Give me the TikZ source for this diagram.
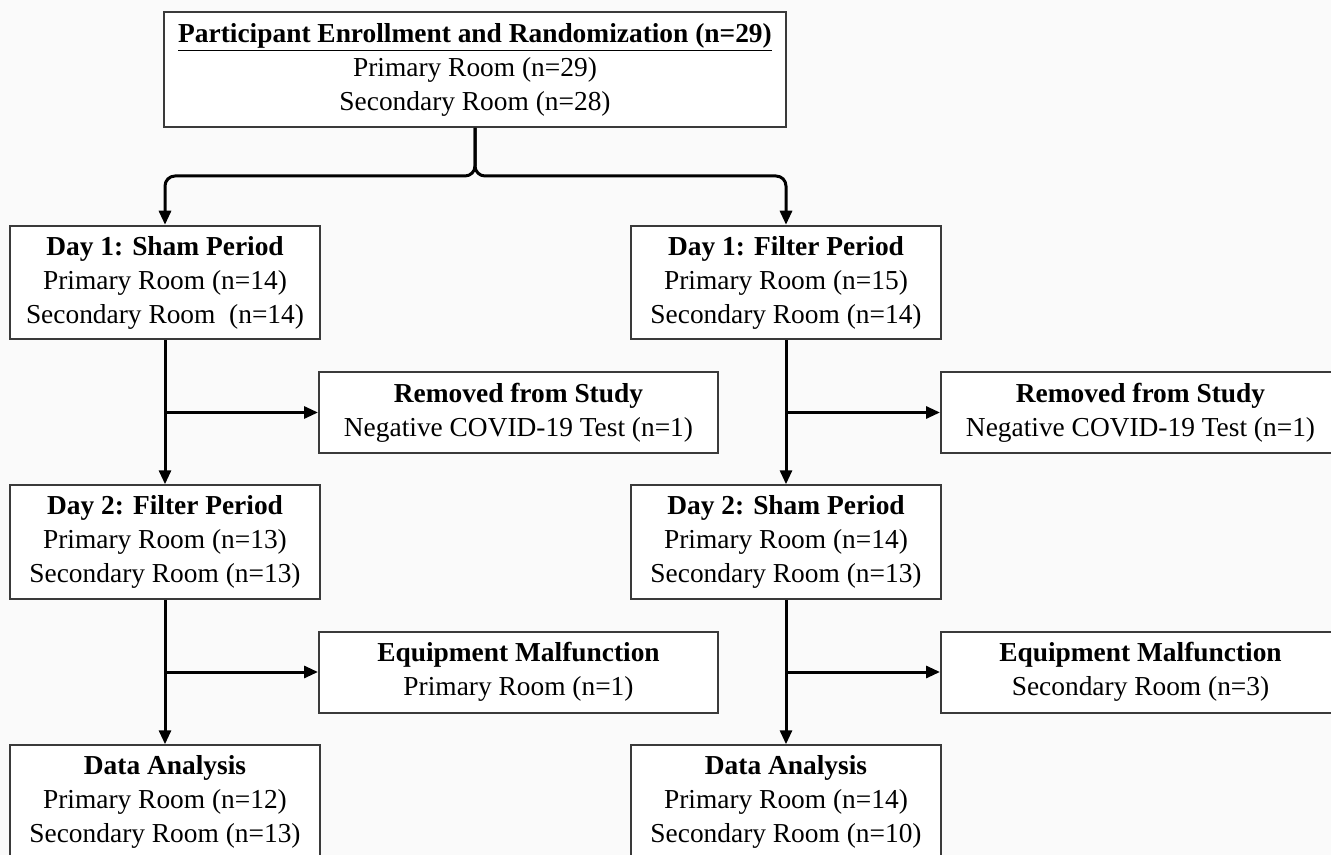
\documentclass[tikz,border=0pt]{standalone}
\usepackage{fontspec}
\setmainfont{Liberation Serif}
\usetikzlibrary{arrows.meta}
\definecolor{bg}{HTML}{FAFAFA}
\definecolor{bord}{HTML}{3A3A3A}
\begin{document}
\begin{tikzpicture}[x=0.5pt,y=-0.5pt,
  font=\fontsize{13.7}{17}\selectfont,
  box/.style={draw=bord, line width=1pt, fill=white, align=center, inner sep=0pt},
  wbox/.style={box, minimum width=155pt, minimum height=56.75pt},
  sbox/.style={box, minimum width=199.5pt, minimum height=40.5pt},
  conn/.style={line width=1.5pt, -{Triangle[length=7pt,width=6pt]}}]
\path[fill=bg] (0,0) rectangle (1331,855);
\useasboundingbox (0,0) rectangle (1331,855);
\clip (0,0) rectangle (1331,855);

\node[box, minimum width=311pt, minimum height=57.5pt] (top) at (475,69.5)
  {\textbf{\underline{Participant Enrollment and Randomization (n=29)}}\\Primary Room (n=29)\\Secondary Room (n=28)};

\node[wbox] (s1) at (165,282.5) {\textbf{Day 1: Sham Period}\\Primary Room (n=14)\\Secondary Room\ \ (n=14)};
\node[wbox] (f1) at (786,282.5) {\textbf{Day 1: Filter Period}\\Primary Room (n=15)\\Secondary Room (n=14)};

\node[sbox] (r1) at (518.5,412.5) {\textbf{Removed from Study}\\Negative COVID-19 Test (n=1)};
\node[sbox] (r2) at (1140.5,412.5) {\textbf{Removed from Study}\\Negative COVID-19 Test (n=1)};

\node[wbox] (f2) at (165,542) {\textbf{Day 2: Filter Period}\\Primary Room (n=13)\\Secondary Room (n=13)};
\node[wbox] (s2) at (786,542) {\textbf{Day 2: Sham Period}\\Primary Room (n=14)\\Secondary Room (n=13)};

\node[sbox] (e1) at (518.5,672) {\textbf{Equipment Malfunction}\\Primary Room (n=1)};
\node[sbox] (e2) at (1140.5,672) {\textbf{Equipment Malfunction}\\Secondary Room (n=3)};

\node[wbox] (d1) at (165,802) {\textbf{Data Analysis}\\Primary Room (n=12)\\Secondary Room (n=13)};
\node[wbox] (d2) at (786,802) {\textbf{Data Analysis}\\Primary Room (n=14)\\Secondary Room (n=10)};

\draw[conn, rounded corners=5pt] (top.south) -- ++(0,48) -| (s1.north);
\draw[conn, rounded corners=5pt] (top.south) -- ++(0,48) -| (f1.north);

\draw[conn] (s1.south) -- (f2.north);
\draw[conn] (s1.south |- r1.west) -- (r1.west);
\draw[conn] (f1.south) -- (s2.north);
\draw[conn] (f1.south |- r2.west) -- (r2.west);

\draw[conn] (f2.south) -- (d1.north);
\draw[conn] (f2.south |- e1.west) -- (e1.west);
\draw[conn] (s2.south) -- (d2.north);
\draw[conn] (s2.south |- e2.west) -- (e2.west);
\end{tikzpicture}
\end{document}
